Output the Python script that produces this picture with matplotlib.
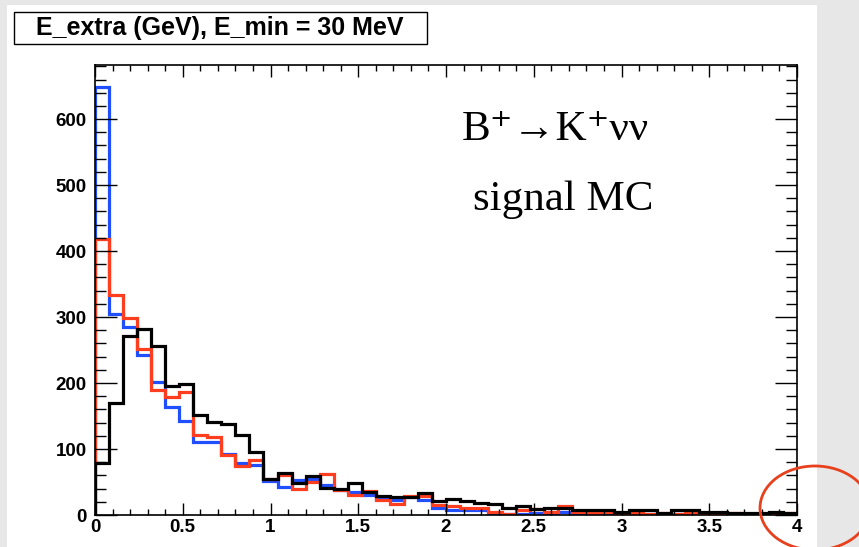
import numpy as np
import matplotlib.pyplot as plt
from matplotlib.patches import Rectangle, Ellipse
from matplotlib.ticker import MultipleLocator

# Bin contents (50 bins, 0 - 4 GeV)
x_min, x_max, n_bins = 0.0, 4.0, 50
blue = [648, 305, 285, 242, 201, 164, 143, 111, 110, 93,
        79, 76, 51, 43, 53, 54, 46, 38, 35, 30,
        25, 23, 28, 23, 10, 8, 7, 8, 2, 2,
        2, 3, 3, 5, 2, 1, 1, 1, 1, 1,
        1, 1.5, 1.5, 1, 1, 1, 1, 1, 1, 1]
red = [419, 334, 299, 252, 189, 179, 186, 121, 118, 91,
       74, 83, 55, 60, 40, 50, 62, 38, 30, 36,
       23, 17, 29, 29, 15, 13, 10, 11, 5, 2,
       8, 9, 5, 13, 4, 2.5, 4, 1.5, 3.5, 1.5,
       3.5, 1, 3.5, 2.5, 2, 3, 2, 2, 2, 3]
black = [79, 169, 272, 282, 256, 196, 198, 151, 141, 138,
         121, 96, 55, 64, 48, 59, 41, 39, 49, 35,
         29, 28, 28, 33, 21, 25, 21, 18, 17, 10,
         14, 9, 10, 11, 7, 7, 8, 4, 7, 7,
         3.5, 7, 8, 5, 5, 3.5, 2.5, 2.5, 5, 2.5]
x_ticks = [0, 0.5, 1, 1.5, 2, 2.5, 3, 3.5, 4]
x_tick_labels = ['0', '0.5', '1', '1.5', '2', '2.5', '3', '3.5', '4']
y_ticks = [0, 100, 200, 300, 400, 500, 600]

W, H = 859, 547
fig = plt.figure(figsize=(W / 100, H / 100), dpi=100)
fig.patch.set_facecolor('white')

# slide background around the canvas
for (x0, y0, w, h) in [(0, 0, 7, H), (0, H - 5, W, 5), (817, 0, W - 817, H)]:
    fig.patches.append(Rectangle((x0 / W, y0 / H), w / W, h / H, transform=fig.transFigure,
                                 facecolor='#e7e7e7', edgecolor='none', zorder=0))

ax = fig.add_axes([95 / W, 1 - 515 / H, (797 - 95) / W, (515 - 65) / H])

edges = np.linspace(x_min, x_max, n_bins + 1)
ax.stairs(blue, edges, baseline=0, color='#1f4fff', lw=2.3)
ax.stairs(red, edges, baseline=0, color='#ff3d1f', lw=2.3)
ax.stairs(black, edges, baseline=0, color='black', lw=2.3)

ax.set_xlim(x_min, x_max)
ax.set_ylim(0, 682)

# ROOT style ticks on all sides, pointing inwards
ax.set_xticks(x_ticks)
ax.set_xticklabels(x_tick_labels)
ax.set_yticks(y_ticks)
ax.xaxis.set_minor_locator(MultipleLocator(0.1))
ax.yaxis.set_minor_locator(MultipleLocator(20))
ax.tick_params(axis='both', which='both', direction='in', top=True, right=True,
               color='black', width=1.0)
ax.tick_params(axis='x', which='major', length=8.6, pad=3)
ax.tick_params(axis='x', which='minor', length=4.3)
ax.tick_params(axis='y', which='major', length=15.8, pad=6)
ax.tick_params(axis='y', which='minor', length=7.9)
for lab in ax.get_xticklabels() + ax.get_yticklabels():
    lab.set_fontfamily('Liberation Sans')
    lab.set_fontweight('bold')
    lab.set_fontsize(13.5)
for sp in ax.spines.values():
    sp.set_linewidth(1.2)

# Title box
fig.patches.append(Rectangle((14 / W, 1 - 44 / H), 413 / W, 32 / H, transform=fig.transFigure,
                             facecolor='white', edgecolor='black', lw=1.0, zorder=2))
fig.text(220 / W, 1 - 28 / H, 'E_extra (GeV), E_min = 30 MeV', ha='center', va='center',
         fontfamily='Liberation Sans', fontweight='bold', fontsize=18, zorder=3)

# Annotation inside the plot
serif = ['Liberation Serif', 'DejaVu Serif']
fig.text(462 / W, 1 - 140 / H, 'B⁺→K⁺νν', ha='left', va='baseline',
         family=serif, fontsize=31)
fig.text(473 / W, 1 - 210 / H, 'signal MC', ha='left', va='baseline',
         family=serif, fontsize=31)

# red circle around the end of the axis
fig.patches.append(Ellipse((815 / W, 1 - 508 / H), 110 / W, 84 / H, transform=fig.transFigure,
                           facecolor='none', edgecolor='#e8401c', lw=2.0, zorder=5))

plt.savefig('out.png', dpi=100)
